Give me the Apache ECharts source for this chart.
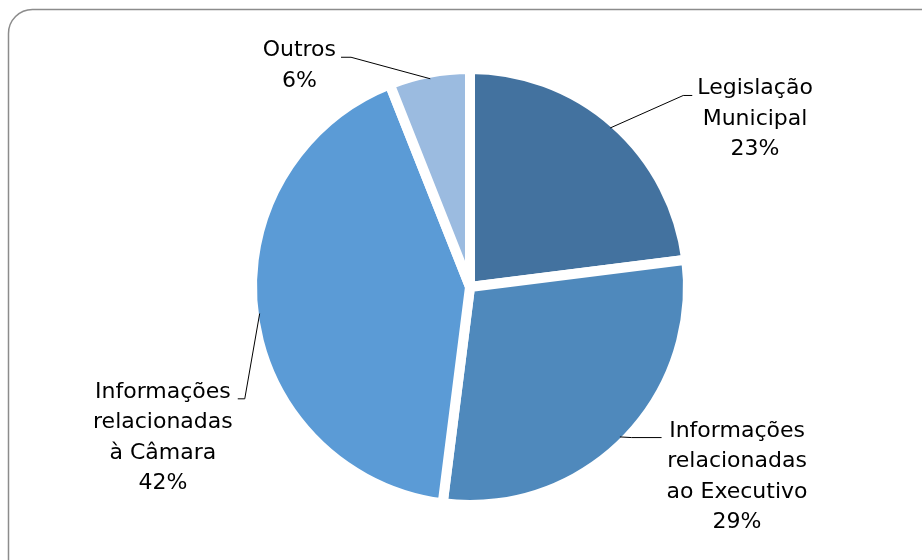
<!DOCTYPE html>
<html>
<head>
<meta charset="utf-8">
<script src="https://cdn.jsdelivr.net/npm/echarts@6/dist/echarts.min.js"></script>
<style>
  html, body { margin: 0; padding: 0; background: #fff; }
  #main { width: 922px; height: 560px; }
</style>
</head>
<body>
<div id="main"></div>
<script>
  // categories and values (percent)
  var categories = ['Legislação\nMunicipal', 'Informações\nrelacionadas\nao Executivo', 'Informações\nrelacionadas\nà Câmara', 'Outros'];
  var values = [23, 29, 42, 6];
  var colors = ['#43729f', '#4f89bc', '#5b9bd6', '#9bbbe0'];

  // leader line lengths per slice, and label nudges
  var lineLen = [44, 2, 4, 22];
  var lineLen2 = [48, 38, 14, 74];
  var labelDx = [1, -2, 2, -10];
  var labelDy = [5, -5, 84, 6];
  var knee = [9, 30, 7, 10];

  var pieCenter = [470, 287];
  var pieRadius = 218;
  var borderW = 10;

  var chart = echarts.init(document.getElementById('main'));

  var total = values.reduce(function (a, b) { return a + b; }, 0);

  // point on the visible edge of slice i, at its middle angle
  function edgePoint(i) {
    var before = 0;
    for (var j = 0; j < i; j++) before += values[j];
    var a = (90 - 360 * (before + values[i] / 2) / total) * Math.PI / 180;
    var r = pieRadius - borderW / 2 - 1;
    return [pieCenter[0] + r * Math.cos(a), pieCenter[1] - r * Math.sin(a)];
  }

  // slices (white border gives the exploded look)
  var sliceData = categories.map(function (name, i) {
    return { name: name, value: values[i], itemStyle: { color: colors[i] } };
  });

  // same slices, transparent, only to carry labels and leader lines above the pie
  var labelData = categories.map(function (name, i) {
    return {
      name: name,
      value: values[i],
      labelLine: { length: lineLen[i], length2: lineLen2[i] }
    };
  });

  var option = {
    backgroundColor: '#fff',
    animation: false,
    graphic: [{
      type: 'rect',
      shape: { x: 8.5, y: 9.5, width: 960, height: 600, r: 24 },
      style: { fill: 'none', stroke: '#8c8c8c', lineWidth: 1.5 },
      silent: true
    }],
    series: [{
      type: 'pie',
      z: 2,
      center: pieCenter,
      radius: pieRadius,
      startAngle: 90,
      clockwise: true,
      silent: true,
      itemStyle: { borderColor: '#fff', borderWidth: borderW },
      label: { show: false },
      labelLine: { show: false },
      data: sliceData
    }, {
      type: 'pie',
      z: 5,
      center: pieCenter,
      radius: pieRadius,
      startAngle: 90,
      clockwise: true,
      silent: true,
      itemStyle: { color: 'rgba(0,0,0,0)', borderWidth: 0 },
      label: {
        show: true,
        position: 'outside',
        color: '#000',
        fontFamily: 'DejaVu Sans',
        fontSize: 22,
        lineHeight: 30.5,
        distanceToLabelLine: 5,
        formatter: function (p) {
          var lines = p.name.split('\n').concat([p.percent + '%']);
          return lines.map(function (l) { return '{c|' + l + '}'; }).join('\n');
        },
        rich: {
          c: { align: 'center', fontFamily: 'DejaVu Sans', fontSize: 22, lineHeight: 30.5, color: '#000' }
        }
      },
      labelLine: {
        show: true,
        smooth: false,
        minTurnAngle: 0,
        maxSurfaceAngle: 180,
        lineStyle: { color: '#000', width: 1 }
      },
      labelLayout: function (params) {
        var i = params.dataIndex;
        var pts = params.labelLinePoints;
        var out = { verticalAlign: 'top', dx: labelDx[i], dy: labelDy[i] - 22 };
        if (pts && pts.length === 3) {
          var start = edgePoint(i);
          var end = [pts[2][0] + labelDx[i], pts[2][1] + labelDy[i]];
          var side = pts[2][0] > pts[1][0] ? 1 : -1;
          var bend = [end[0] - side * knee[i], end[1]];
          out.labelLinePoints = [start, bend, end];
        }
        return out;
      },
      data: labelData
    }]
  };

  chart.setOption(option);
</script>
</body>
</html>
